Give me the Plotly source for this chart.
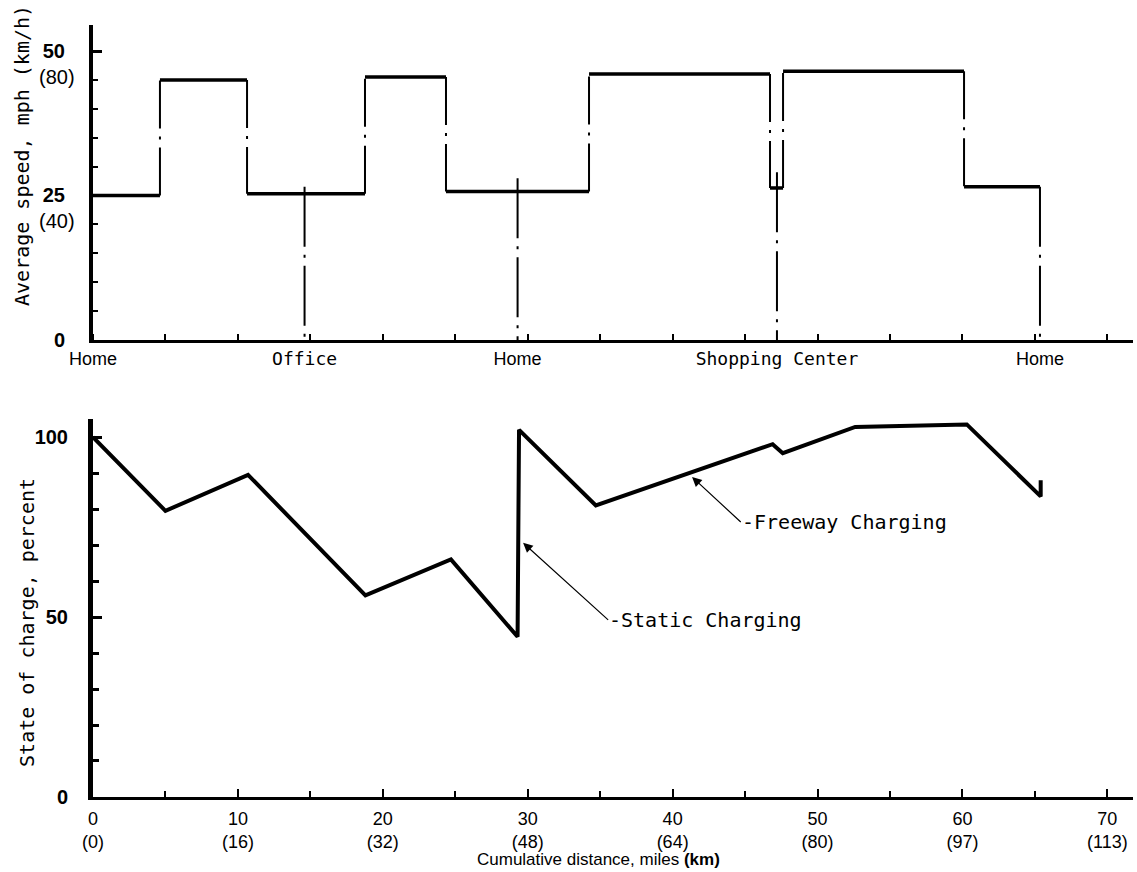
import plotly.graph_objects as go

# ---------------- data ----------------
# Top panel: average speed step profile (miles, mph)
seg_start = [0, 4.62, 10.63, 18.77, 24.36, 34.23, 46.72, 47.62, 60.11]
seg_end = [4.62, 10.63, 18.77, 24.36, 34.23, 46.72, 47.62, 60.11, 65.35]
seg_speed = [25, 45, 25.3, 45.5, 25.7, 46, 26.3, 46.5, 26.5]

stop_miles = [0, 14.6, 29.3, 47.2, 65.35]
stop_names = ["Home", "Office", "Home", "Shopping Center", "Home"]
stop_drop_top = [None, 26.5, 28, 29, 26.5]

speed_ticks = [0, 25, 50]
speed_kmh = ["(40)", "(80)"]
speed_kmh_at = [25, 50]

# Bottom panel: state of charge (miles, percent)
soc_miles = [0, 5.0, 10.7, 18.8, 24.7, 29.3, 29.4, 34.7, 46.9, 47.6, 52.6, 60.3, 65.4, 65.4]
soc_pct = [100, 79.5, 89.5, 56, 66, 44.5, 102, 81, 98, 95.5, 102.8, 103.5, 83.5, 88]

dist_ticks = [0, 10, 20, 30, 40, 50, 60, 70]
dist_km = [0, 16, 32, 48, 64, 80, 97, 113]
soc_ticks = [0, 50, 100]

MONO = "DejaVu Sans Mono"
SANS = "Liberation Sans"
BLACK = "#000000"


def stop_label(name):
    if name == "Home":
        return '<span style="font-family:Liberation Sans">Home</span>'
    return name


fig = go.Figure()

# horizontal speed segments
hx, hy = [], []
for s, e, v in zip(seg_start, seg_end, seg_speed):
    hx += [s, e, None]
    hy += [v, v, None]
fig.add_trace(go.Scatter(x=hx, y=hy, mode="lines", line=dict(color=BLACK, width=3.5),
                         xaxis="x", yaxis="y", showlegend=False, hoverinfo="skip"))

# vertical transitions (dash-dot)
vx, vy = [], []
for i in range(len(seg_speed) - 1):
    vx += [seg_end[i], seg_end[i], None]
    vy += [seg_speed[i], seg_speed[i + 1], None]
fig.add_trace(go.Scatter(x=vx, y=vy, mode="lines",
                         line=dict(color=BLACK, width=2, dash="48px,8px,3px,8px"),
                         xaxis="x", yaxis="y", showlegend=False, hoverinfo="skip"))

# drop lines at stops
dx, dy = [], []
for m, t in zip(stop_miles[1:], stop_drop_top[1:]):
    dx += [m, m, None]
    dy += [t, 0, None]
fig.add_trace(go.Scatter(x=dx, y=dy, mode="lines",
                         line=dict(color=BLACK, width=2, dash="60px,8px,3px,8px"),
                         xaxis="x", yaxis="y", showlegend=False, hoverinfo="skip"))

# state of charge line
fig.add_trace(go.Scatter(x=soc_miles, y=soc_pct, mode="lines",
                         line=dict(color=BLACK, width=4),
                         xaxis="x2", yaxis="y2", showlegend=False, hoverinfo="skip"))

XR = [0, 71.77]
minor_x = dict(ticks="inside", tickmode="linear", tick0=0, dtick=5, ticklen=6,
               tickwidth=2, tickcolor=BLACK, showgrid=False)

fig.update_layout(
    width=1137, height=872,
    margin=dict(l=93, r=4, t=25, b=75),
    paper_bgcolor="white", plot_bgcolor="white",
    xaxis=dict(domain=[0, 1], range=XR, anchor="y", showline=True, linewidth=3,
               linecolor=BLACK, showgrid=False, zeroline=False,
               tickmode="array", tickvals=stop_miles,
               ticktext=[stop_label(n) for n in stop_names],
               ticks="", ticklabelstandoff=0,
               tickfont=dict(family=MONO, size=18, color=BLACK),
               minor=minor_x),
    yaxis=dict(domain=[0.592, 1.0], range=[0, 54.5], anchor="x", showline=True,
               linewidth=4, linecolor=BLACK, showgrid=False, zeroline=False,
               tickmode="array", tickvals=speed_ticks,
               ticktext=[str(v) for v in speed_ticks],
               ticks="inside", ticklen=9, tickwidth=3, tickcolor=BLACK,
               ticklabelstandoff=20,
               tickfont=dict(family=SANS, size=20, color=BLACK, weight="bold"),
               minor=dict(ticks="inside", tickmode="linear", tick0=0, dtick=5,
                          ticklen=5, tickwidth=2, tickcolor=BLACK, showgrid=False)),
    xaxis2=dict(domain=[0, 1], range=XR, anchor="y2", showline=True, linewidth=3,
                linecolor=BLACK, showgrid=False, zeroline=False,
                tickmode="array", tickvals=dist_ticks,
                ticktext=[f"{m}<br>({k})" for m, k in zip(dist_ticks, dist_km)],
                ticks="inside", ticklen=8, tickwidth=2, tickcolor=BLACK,
                ticklabelstandoff=3,
                tickfont=dict(family=SANS, size=18, color=BLACK),
                minor=minor_x),
    yaxis2=dict(domain=[0, 0.4896], range=[0, 105], anchor="x2", showline=True,
                linewidth=5, linecolor=BLACK, showgrid=False, zeroline=False,
                tickmode="array", tickvals=soc_ticks,
                ticktext=[str(v) for v in soc_ticks],
                ticks="inside", ticklen=9, tickwidth=3, tickcolor=BLACK,
                ticklabelstandoff=16,
                tickfont=dict(family=SANS, size=20, color=BLACK, weight="bold"),
                minor=dict(ticks="inside", tickmode="linear", tick0=0, dtick=10,
                           ticklen=6, tickwidth=3, tickcolor=BLACK, showgrid=False)),
)

annotations = []
# km/h labels under the mph tick labels
for lab, at in zip(speed_kmh, speed_kmh_at):
    annotations.append(dict(text=lab, xref="paper", yref="y", x=-0.0346, y=at,
                            yshift=-26, xanchor="center", yanchor="middle",
                            showarrow=False,
                            font=dict(family=SANS, size=20, color=BLACK)))

# axis titles
annotations.append(dict(text="Average speed, mph (km/h)", xref="paper", yref="paper",
                        x=-0.0683, y=0.8316, textangle=-90, showarrow=False,
                        xanchor="center", yanchor="middle",
                        font=dict(family=MONO, size=20, color=BLACK)))
annotations.append(dict(text="State of charge, percent", xref="paper", yref="paper",
                        x=-0.0635, y=0.2267, textangle=-90, showarrow=False,
                        xanchor="center", yanchor="middle",
                        font=dict(family=MONO, size=20, color=BLACK)))
annotations.append(dict(text="Cumulative distance, miles <b>(km)</b>", xref="paper",
                        yref="paper", x=0.4856, y=-0.0805, showarrow=False,
                        xanchor="center", yanchor="middle",
                        font=dict(family=SANS, size=17, color=BLACK)))

# callouts
annotations.append(dict(text="-Static Charging", xref="x2", yref="y2",
                        x=29.68, y=70.6, axref="x2", ayref="y2", ax=35.55, ay=49.2,
                        xanchor="left", yanchor="middle", showarrow=True,
                        arrowhead=2, arrowsize=1.6, arrowwidth=1.2, arrowcolor=BLACK,
                        borderpad=0,
                        font=dict(family=MONO, size=20, color=BLACK)))
annotations.append(dict(text="-Freeway Charging", xref="x2", yref="y2",
                        x=41.34, y=88.9, axref="x2", ayref="y2", ax=44.7, ay=76.4,
                        xanchor="left", yanchor="middle", showarrow=True,
                        arrowhead=2, arrowsize=1.6, arrowwidth=1.2, arrowcolor=BLACK,
                        borderpad=0,
                        font=dict(family=MONO, size=20, color=BLACK)))

fig.update_layout(annotations=annotations)

fig.write_html("out.html", config={"displayModeBar": False},
               post_script="document.body.style.margin='0';document.body.style.overflow='hidden';")
